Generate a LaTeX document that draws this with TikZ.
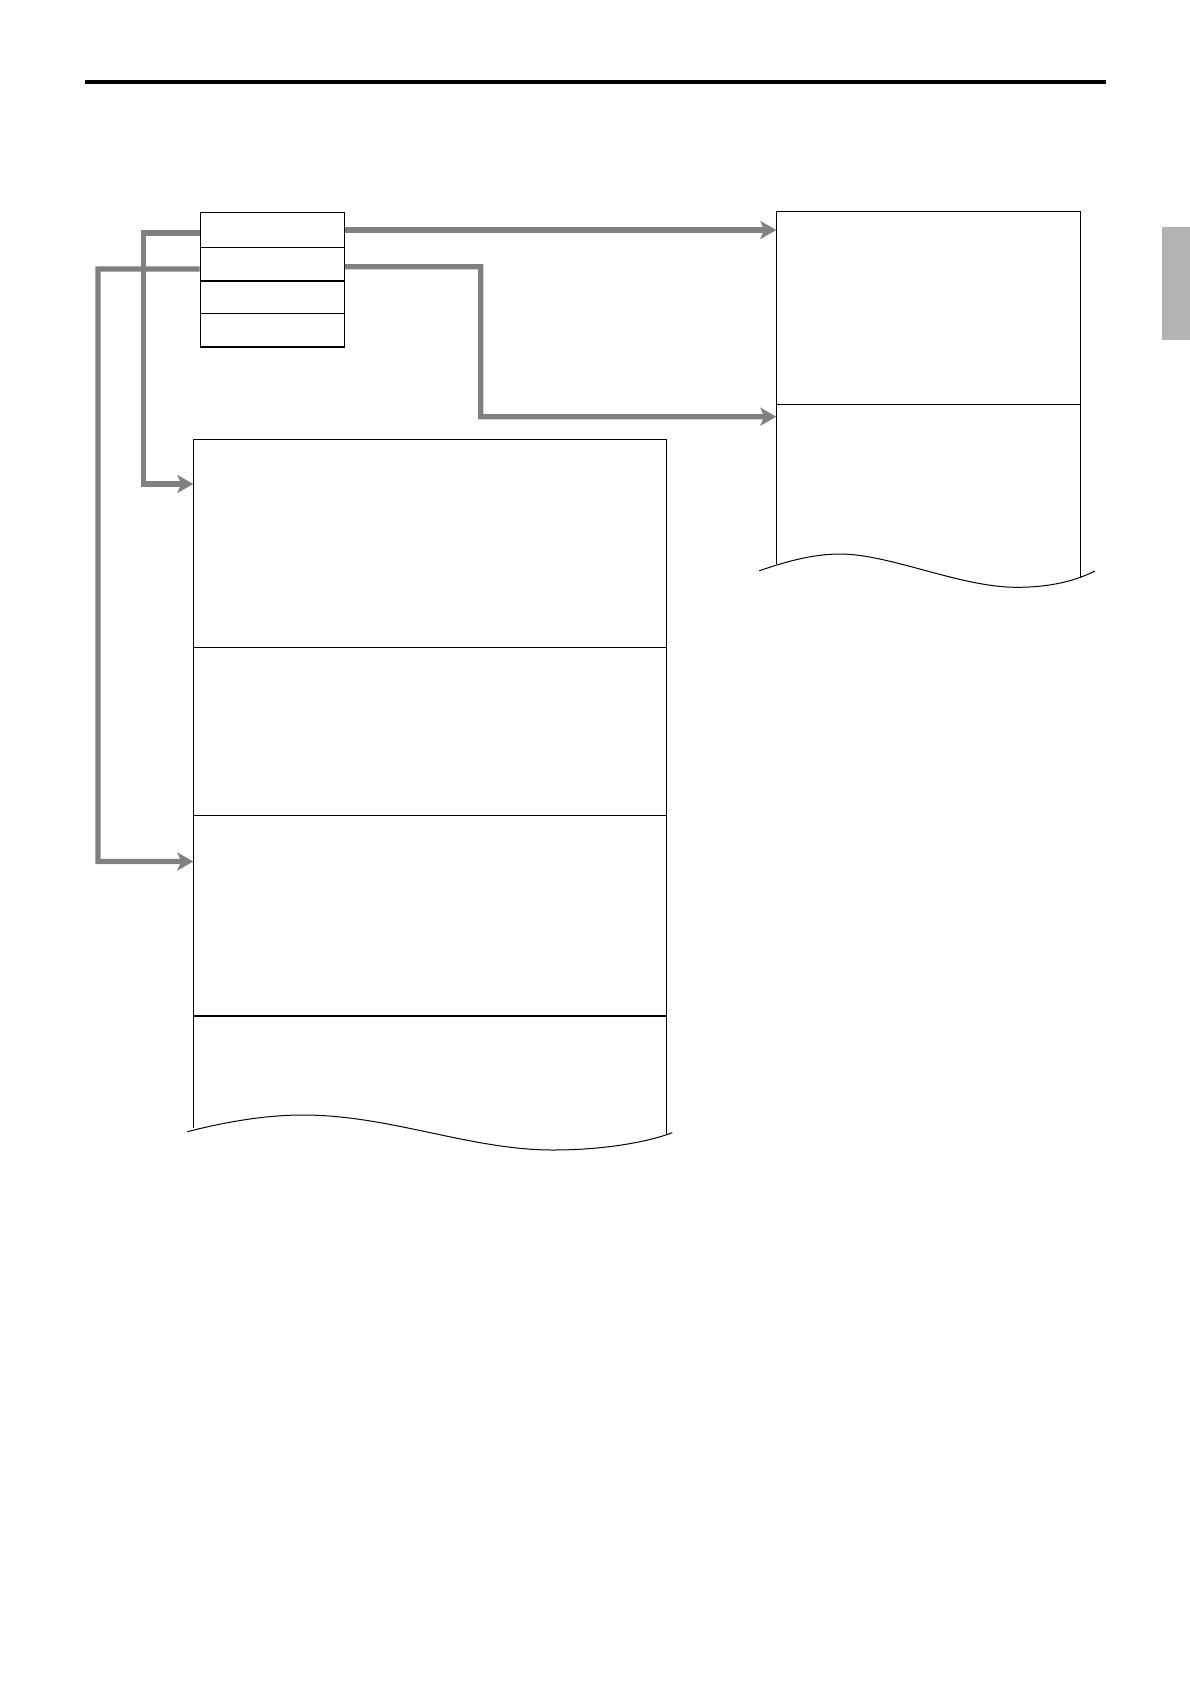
\documentclass[tikz,border=0pt]{standalone}
\usetikzlibrary{arrows.meta,calc}
\definecolor{conngray}{HTML}{808080}
\definecolor{tabgray}{HTML}{B3B3B3}
\begin{document}
\begin{tikzpicture}[x=1pt,y=-1pt,
  cell/.style={draw=black,line width=1.2pt,inner sep=0pt,minimum width=144pt},
  boxline/.style={draw=black,line width=1.2pt},
  conn/.style={draw=conngray,line width=5.3pt,line join=miter,
    -{Stealth[length=16pt,width=18pt,inset=4pt]}},
  connplain/.style={draw=conngray,line width=5.3pt,line join=miter}]
\useasboundingbox (0,0) rectangle (1190,1684);
% top rule
\draw[line width=4pt] (85,82) -- (1106,82);
% side tab
\fill[tabgray] (1162,227) rectangle (1190,340);
% small box of four cells
\node[cell,minimum height=35pt] (r1) at (272.3,229.8) {};
\node[cell,minimum height=33.7pt] (r2) at (272.3,264.15) {};
\node[cell,minimum height=32.3pt] (r3) at (272.3,297.15) {};
\node[cell,minimum height=33.7pt] (r4) at (272.3,330.15) {};
% right box
\draw[boxline] (776.3,564) -- (776.3,211.3) -- (1080.3,211.3) -- (1080.3,576.7);
\draw[boxline] (776.3,404.3) -- (1080.3,404.3);
\draw[black,line width=1pt] (759.3,570.7) .. controls (785,562) and (812,554) .. (840,554)
  .. controls (890,554) and (960,587.3) .. (1016.7,587.3)
  .. controls (1050,587.3) and (1075,581) .. (1095,571);
% large box
\draw[boxline] (193.3,1128) -- (193.3,439.3) -- (666.3,439.3) -- (666.3,1134);
\draw[boxline] (193.3,647.3) -- (666.3,647.3);
\draw[boxline] (193.3,815.3) -- (666.3,815.3);
\draw[boxline] (193.3,1016) -- (666.3,1016);
\draw[black,line width=1pt] (187.3,1131.7) .. controls (225,1122) and (265,1115) .. (303,1115)
  .. controls (390,1115) and (470,1150) .. (553,1150)
  .. controls (600,1150) and (645,1143) .. (672.3,1132.7);
% arrow targets
\coordinate (tA) at (776.3,230);
\coordinate (tB) at (776.3,416.7);
\coordinate (tC) at (193.3,484);
\coordinate (tD) at (193.3,861.5);
% connectors
\draw[conn] (r1.east |- tA) -- (tA);
\draw[conn] ($(r2.east)+(0,2.5)$) -- (480.7,266.7) -- (480.7,416.7) -- (tB);
\draw[conn] ($(r1.west)+(0,3.2)$) -- (143.3,233) -- (143.3,484) -- (tC);
\draw[conn] ($(r2.west)+(0,4.8)$) -- (98,269) -- (98,861.5) -- (tD);
\end{tikzpicture}
\end{document}
